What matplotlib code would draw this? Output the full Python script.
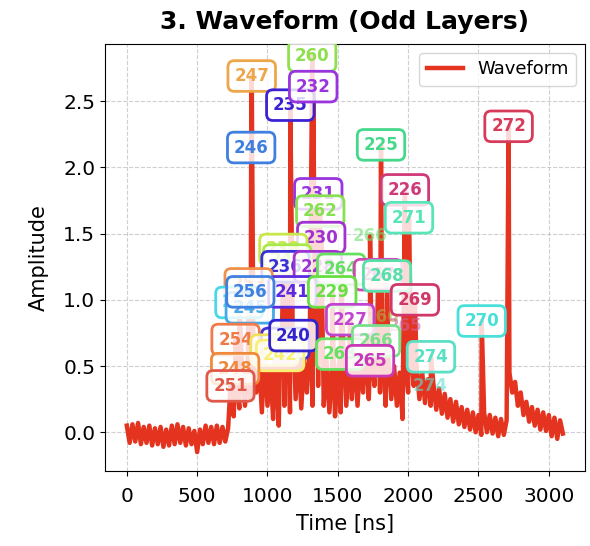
import numpy as np
import matplotlib.pyplot as plt

# waveform baseline, one sample every 20 ns
base_times = np.arange(0, 3101, 20)
base_values = [
    0.05, -0.08, 0.06, -0.07, 0.07, -0.09, 0.04, -0.08, 0.05, -0.10,
    0.03, -0.09, 0.04, -0.11, 0.02, -0.10, 0.05, -0.09, 0.06, -0.08,
    0.04, -0.10, 0.03, -0.09, 0.01, -0.15, 0.02, -0.09, 0.05, -0.08,
    0.04, -0.09, 0.05, -0.08, 0.04, -0.07, 0.03, 0.22, 0.12, 0.38,
    0.18, 0.45, 0.20, 0.50, 0.25, 0.60, 0.30, 0.55, 0.15, 0.62,
    0.20, 0.50, 0.10, 0.45, 0.05, 0.55, 0.20, 0.60, 0.15, 0.50,
    0.25, 0.65, 0.18, 0.55, 0.30, 0.60, 0.20, 0.70, 0.35, 0.65,
    0.20, 0.55, 0.15, 0.50, 0.12, 0.45, 0.15, 0.60, 0.20, 0.50,
    0.25, 0.65, 0.20, 0.55, 0.30, 0.70, 0.25, 0.60, 0.35, 0.75,
    0.30, 0.65, 0.20, 0.55, 0.25, 0.50, 0.20, 0.45, 0.10, 0.50,
    0.30, 0.60, 0.35, 0.50, 0.25, 0.45, 0.22, 0.40, 0.20, 0.36,
    0.17, 0.33, 0.14, 0.29, 0.11, 0.25, 0.08, 0.23, 0.06, 0.19,
    0.04, 0.17, 0.02, 0.15, 0.00, 0.13, -0.02, 0.15, 0.00, 0.13,
    -0.01, 0.11, -0.03, 0.10, -0.02, 0.09, 0.45, 0.30, 0.38, 0.20,
    0.30, 0.13, 0.23, 0.08, 0.19, 0.05, 0.17, 0.02, 0.15, 0.01,
    0.13, -0.03, 0.11, -0.05, 0.09, -0.01,
]

# labelled peaks, listed back to front
peak_labels = ['260', '247', '235', '232', '246', '225', '272', '226', '271',
               '231', '262', '230', '238', '243', '236', '228', '264', '267',
               '268', '253', '250', '245', '241', '229', '256', '269', '254',
               '239', '244', '242', '240', '227', '270', '263', '266', '265',
               '274', '248', '251']
peak_times = [1318, 888, 1162, 1325, 884, 1807, 2714, 1977, 2006,
              1361, 1375, 1382, 1113, 1140, 1128, 1358, 1524, 1786,
              1850, 866, 800, 874, 1177, 1460, 878, 2048, 773,
              1127, 1050, 1090, 1184, 1588, 2523, 1517, 1772, 1729,
              2162, 770, 737]
peak_amps = [2.84, 2.69, 2.47, 2.61, 2.15, 2.17, 2.31, 1.83, 1.62,
             1.80, 1.67, 1.47, 1.38, 1.30, 1.25, 1.25, 1.23, 1.19,
             1.18, 1.12, 0.98, 0.94, 1.06, 1.06, 1.06, 1.00, 0.70,
             0.67, 0.62, 0.58, 0.73, 0.85, 0.84, 0.59, 0.69, 0.54,
             0.57, 0.48, 0.35]
peak_colors = ['#8ee04e', '#eea64a', '#3a22d4', '#9a34de', '#3f7fe0', '#45d88a',
               '#d83a5a', '#d03a78', '#58e6b8', '#9a34de', '#86e050', '#a232d0',
               '#c8e84a', '#a8e84a', '#3a30d8', '#a232d0', '#66e060', '#d048b8',
               '#58e0a8', '#f0904a', '#48d8e8', '#45a8e8', '#5a2ae0', '#66e040',
               '#3f80e0', '#d0386a', '#f07a48', '#4030d8', '#f0e060', '#f8f070',
               '#3322d0', '#c044d0', '#48e0d8', '#66e060', '#78e08a', '#c838b8',
               '#5ae0c4', '#f08a3a', '#e0584a']

# faded labels without a box
faint_labels = ['266', '266', '265', '274']
faint_times = [1729, 1814, 1977, 2155]
faint_amps = [1.48, 0.87, 0.80, 0.35]
faint_colors = ['#70e070', '#b0b040', '#d060a0', '#60e0d0']

# merge peaks into the sampled trace
times = list(base_times) + peak_times + faint_times
values = list(base_values) + peak_amps + faint_amps
order = np.argsort(times, kind='stable')
wave_t = np.array(times)[order]
wave_v = np.array(values)[order]

fig = plt.figure(figsize=(5.9, 5.46), dpi=100)
ax = fig.add_axes([0.178, 0.138, 0.813, 0.781])

ax.plot(wave_t, wave_v, color='#e4341f', linewidth=3.2, label='Waveform', zorder=2)

for lab, t, a, c in zip(faint_labels, faint_times, faint_amps, faint_colors):
    ax.text(t, a, lab, color=c, alpha=0.6, fontsize=12, fontweight='bold',
            ha='center', va='center', zorder=3)

for i, (lab, t, a, c) in enumerate(zip(peak_labels, peak_times, peak_amps, peak_colors)):
    ax.text(t, a, lab, color=c, fontsize=12, fontweight='bold',
            ha='center', va='center', zorder=4 + i, clip_on=True,
            bbox=dict(boxstyle='round,pad=0.38', facecolor=(1, 1, 1, 0.82),
                      edgecolor=c, linewidth=2))

ax.set_xlim(-155, 3255)
ax.set_ylim(-0.29, 2.93)
ax.set_xticks([0, 500, 1000, 1500, 2000, 2500, 3000])
ax.set_yticks([0.0, 0.5, 1.0, 1.5, 2.0, 2.5])
ax.tick_params(labelsize=14.5)
ax.tick_params(axis='x', pad=8)
ax.grid(True, linestyle='--', color='#b0b0b0', alpha=0.6)
ax.set_xlabel('Time [ns]', fontsize=15, labelpad=6)
ax.set_ylabel('Amplitude', fontsize=15, labelpad=10)
ax.set_title('3. Waveform (Odd Layers)', fontsize=18, fontweight='bold', pad=11)
leg = ax.legend(loc='upper right', fontsize=13)
leg.set_zorder(100)

fig.savefig('out.png', dpi=100)
